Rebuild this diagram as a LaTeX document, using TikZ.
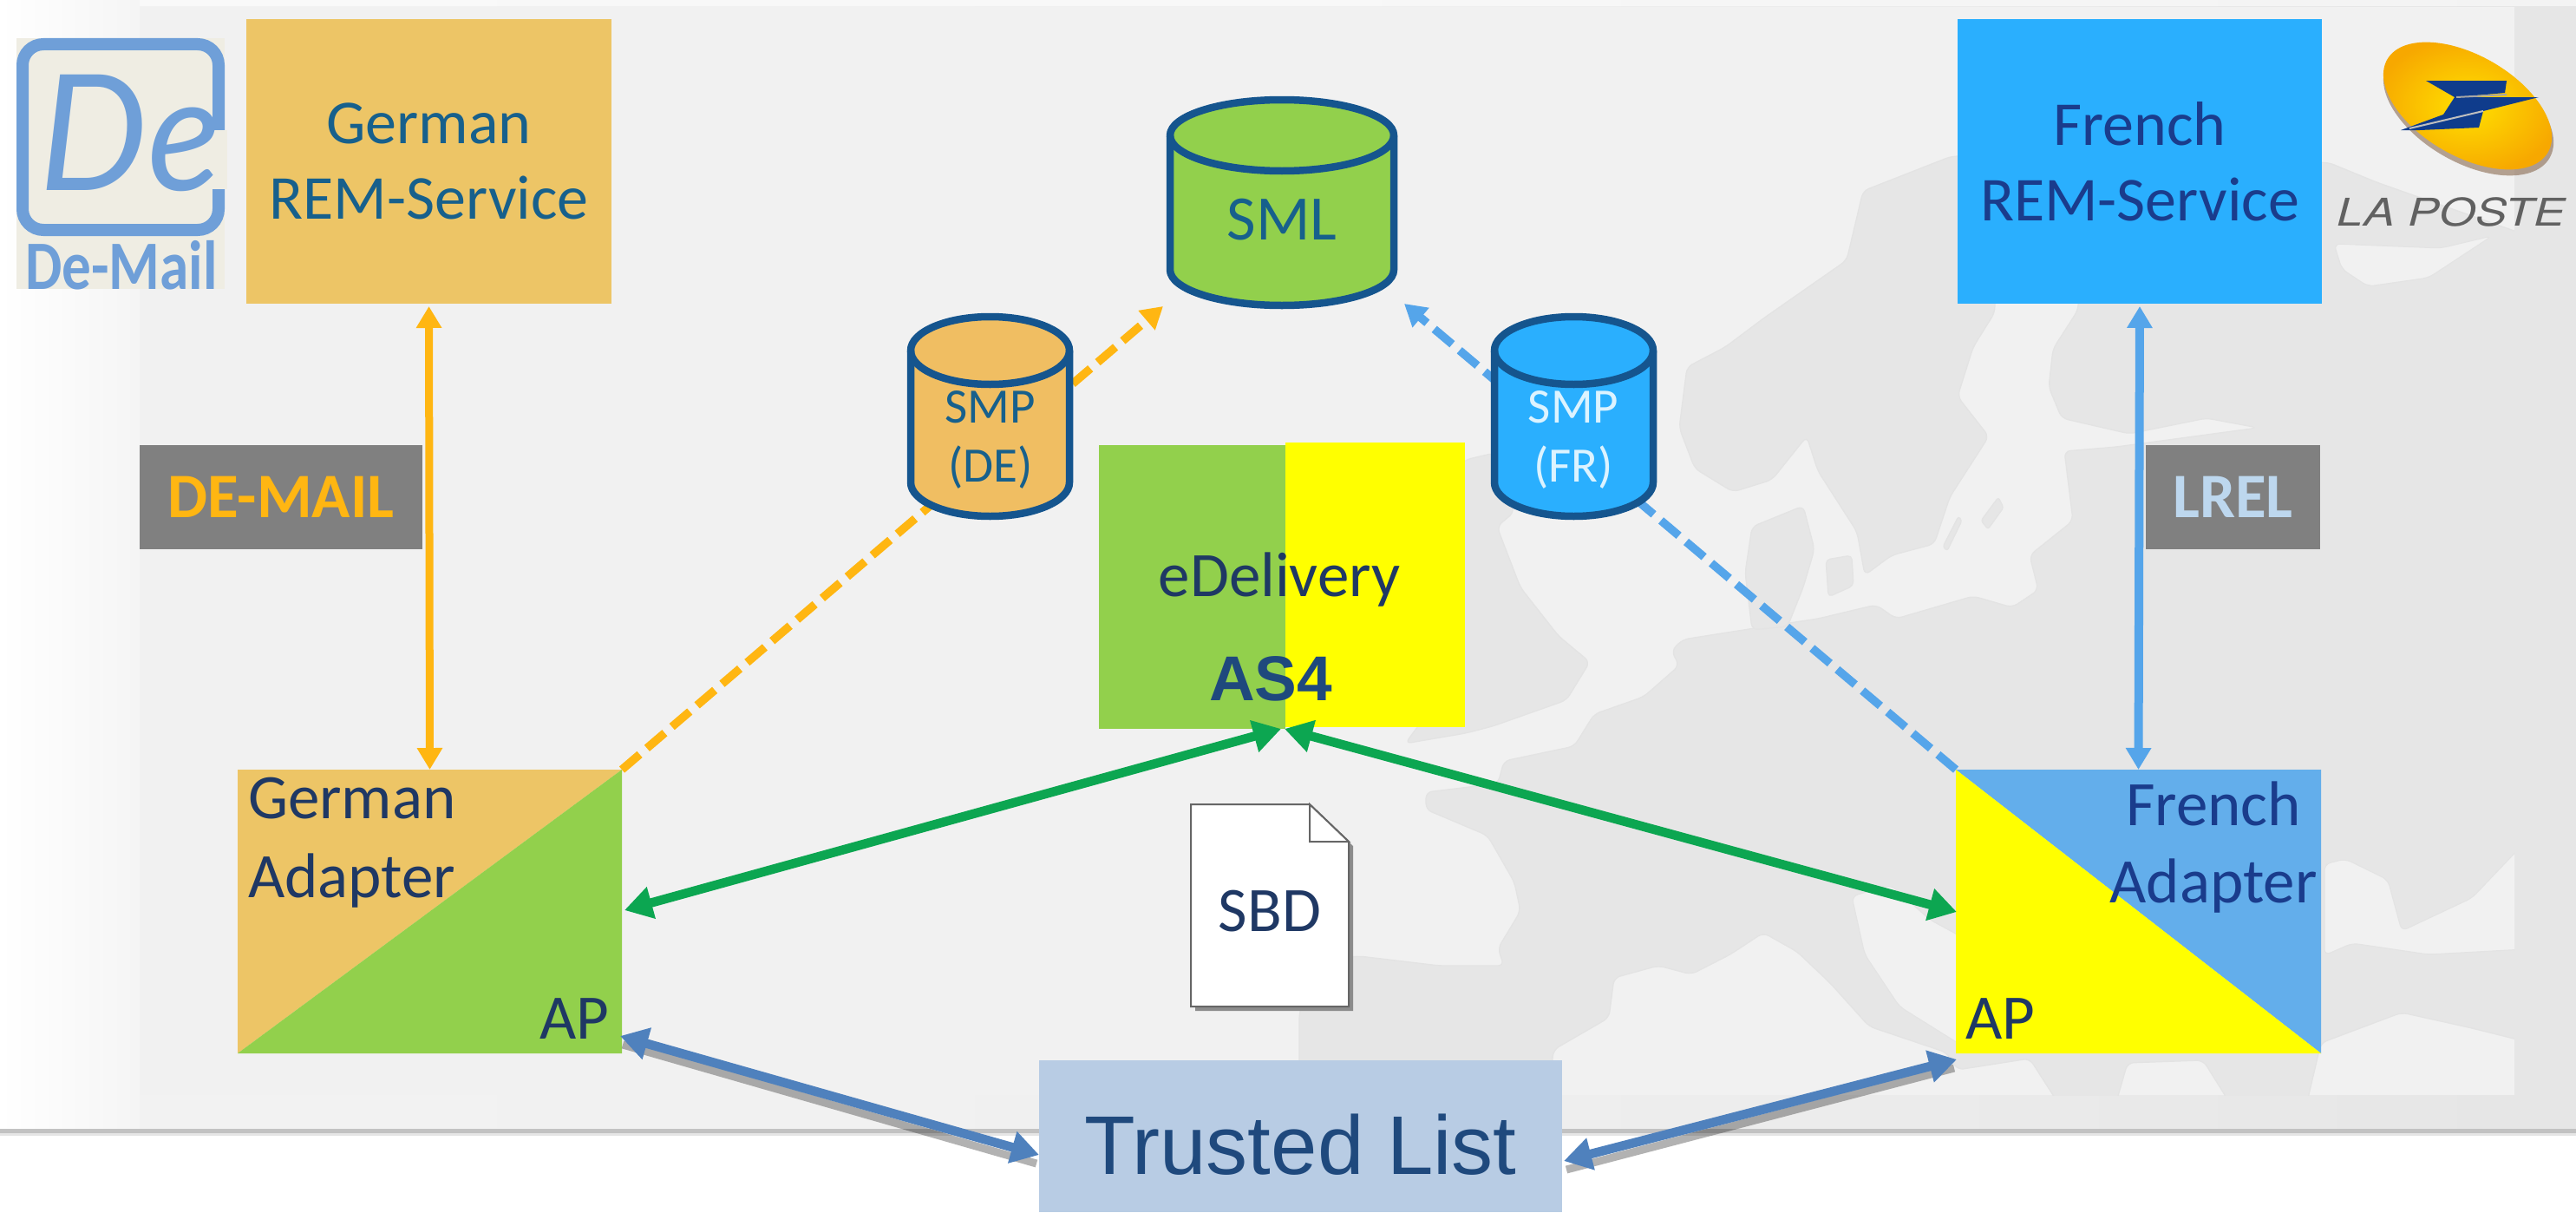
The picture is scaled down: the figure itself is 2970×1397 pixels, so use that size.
\documentclass[tikz,border=0pt]{standalone}
\usepackage{fontspec}
\usepackage{graphicx}
\setmainfont{Carlito}
\newfontfamily\arialf{Liberation Sans}
\newfontfamily\helvf{TeX Gyre Heros}
\newfontfamily\latof{Lato}
\usetikzlibrary{arrows.meta,calc}
\definecolor{orfill}{HTML}{EDC566}
\definecolor{smpor}{HTML}{F0BE62}
\definecolor{grfill}{HTML}{92D04C}
\definecolor{blfill}{HTML}{2AAFFE}
\definecolor{adblue}{HTML}{63AEEB}
\definecolor{cylline}{HTML}{15558E}
\definecolor{orarrow}{HTML}{FFB612}
\definecolor{blarrow}{HTML}{55A5EA}
\definecolor{grarrow}{HTML}{0CA651}
\definecolor{listblue}{HTML}{4F81BD}
\definecolor{listfill}{HTML}{B8CCE4}
\definecolor{landc}{HTML}{E6E6E6}
\definecolor{seac}{HTML}{F1F1F1}
\definecolor{logob}{HTML}{6F9FD8}
\definecolor{logobg}{HTML}{EFEDE3}
\definecolor{navytxt}{HTML}{1F3864}
\definecolor{remde}{HTML}{17608C}
\definecolor{remfr}{HTML}{1A3C8C}
\definecolor{as4col}{HTML}{1F497D}
\definecolor{lrelcol}{HTML}{BDD7EE}
\definecolor{postblue}{HTML}{0F3C8C}
\definecolor{pureyel}{HTML}{FFFF00}
\definecolor{postin}{HTML}{FFE000}
\definecolor{postout}{HTML}{F7A800}
\definecolor{postsh}{HTML}{8A6A50}
\definecolor{smptxt}{HTML}{DCF3FF}
\tikzset{
  plainbox/.style={draw=none,inner sep=0pt,outer sep=0pt,minimum width=#1},
  lbl/.style={inner sep=0pt,outer sep=0pt,align=center},
  land/.style={fill=landc,draw=black!11,line width=1.2pt,rounded corners=7pt},
  sea/.style={fill=seac,draw=black!11,line width=1pt,rounded corners=7pt},
  cylshape/.style={draw=cylline,line width=8.5pt,line join=round},
  dashdeline/.style={line width=9.5pt,dash pattern=on 27pt off 11pt,-{Triangle[length=25pt,width=28pt]}},
  twoway/.style={line width=#1,{Triangle[length=25pt,width=28pt]}-{Triangle[length=25pt,width=28pt]}},
  greenway/.style={line width=10.5pt,grarrow,{Triangle[length=32pt,width=36pt]}-{Triangle[length=32pt,width=36pt]}},
  listarrow/.style={line width=10.5pt,listblue,{Triangle[length=32pt,width=36pt]}-{Triangle[length=32pt,width=36pt]}},
  listshadow/.style={line width=9pt,black,opacity=.3},
}
% x, top y, width, height, ellipse ry, fill
\newcommand{\cylpath}[6]{%
  \pgfmathsetmacro{\cxr}{#3/2}%
  \pgfmathsetmacro{\cyt}{#2+#5}\pgfmathsetmacro{\cyb}{#2+#4-#5}\pgfmathsetmacro{\cxe}{#1+#3}%
  \draw[cylshape,fill=#6] (#1,\cyt) -- (#1,\cyb) arc[start angle=180,end angle=360,x radius=\cxr pt,y radius=#5 pt] -- (\cxe,\cyt) arc[start angle=0,end angle=180,x radius=\cxr pt,y radius=#5 pt] -- cycle;
  \draw[cylshape] (#1,\cyt) arc[start angle=180,end angle=360,x radius=\cxr pt,y radius=#5 pt];
}
\begin{document}
\begin{tikzpicture}[x=1pt,y=-1pt]
\useasboundingbox (0,0) rectangle (2970,1397);
% slide background
\shade[left color=white,right color=black!4] (0,0) rectangle (161,1303);
\shade[left color=black!5,right color=black!10,middle color=black!6] (161,0) rectangle (2970,1303);
\fill[white,opacity=.55] (161,0) rectangle (2970,7);
\fill[black!24] (0,1301) rectangle (2970,1306);
\fill[black!10] (0,1306) rectangle (2970,1309);
\fill[white] (0,1309) rectangle (2970,1397);
% map
\fill[seac] (161,8) rectangle (2899,1262);
\begin{scope}
\clip (161,8) rectangle (2899,1262);
\draw[land] (1498,1262) -- (1498,1167) -- (1520,1105) -- (1568,1102) -- (1660,1113) -- (1734,1113) -- (1727,1093) -- (1753,1050) -- (1746,1017) -- (1715,963) -- (1644,933) -- (1644,913) -- (1727,903) -- (1734,877) -- (1815,860) -- (1838,823) -- (1895,803) -- (1936,767) -- (1927,750) -- (1940,737) -- (2029,723) -- (2096,713) -- (2163,697) -- (2186,713) -- (2275,687) -- (2320,700) -- (2350,680) -- (2340,640) -- (2390,600) -- (2380,520) -- (2440,515) -- (2603,493) -- (2544,482) -- (2455,500) -- (2377,482) -- (2362,446) -- (2367,402) -- (2396,357) -- (2400,200) -- (2684,187) -- (2740,210) -- (2910,270) -- (2910,1200) -- (2850,1185) -- (2769,1167) -- (2676,1202) -- (2660,1270) -- (2570,1270) -- (2540,1222) -- (2453,1225) -- (2440,1270) -- (2372,1270) -- (2340,1220) -- (2257,1233) -- (2244,1213) -- (2155,1183) -- (2110,1133) -- (2072,1097) -- (2033,1075) -- (1995,1100) -- (1950,1123) -- (1912,1113) -- (1861,1127) -- (1855,1173) -- (1791,1210) -- (1785,1270) -- (1498,1270) -- cycle;
\draw[land] (2250,180) -- (2148,220) -- (2129,300) -- (2033,367) -- (1989,400) -- (1945,423) -- (1936,493) -- (1954,540) -- (1998,567) -- (2043,553) -- (2083,503) -- (2096,543) -- (2141,613) -- (2150,663) -- (2181,640) -- (2230,627) -- (2248,573) -- (2293,503) -- (2257,457) -- (2275,400) -- (2300,360) -- (2300,180) -- cycle;
\draw[land] (2020,607) -- (2079,583) -- (2092,633) -- (2079,677) -- (2061,722) -- (2020,726) -- (2012,660) -- cycle;
\draw[land,rounded corners=5pt] (2105,645) -- (2135,640) -- (2137,675) -- (2108,688) -- cycle;
\draw[land,rounded corners=3pt] (2304,573) -- (2310,585) -- (2292,610) -- (2284,600) -- cycle;
\draw[land,rounded corners=3pt] (2258,595) -- (2262,600) -- (2245,635) -- (2240,630) -- cycle;
\draw[land] (1689,530) -- (1723,522) -- (1746,590) -- (1726,607) -- (1753,677) -- (1797,733) -- (1833,763) -- (1806,807) -- (1721,837) -- (1690,845) -- (1620,857) -- (1640,830) -- (1660,800) -- (1660,560) -- cycle;
\draw[sea] (2135,1033) -- (2150,1100) -- (2190,1160) -- (2262,1205) -- (2262,1080) -- (2225,1060) -- (2180,1020) -- cycle;
\draw[sea] (2680,996) -- (2704,990) -- (2753,1014) -- (2769,1073) -- (2850,1035) -- (2910,972) -- (2910,1094) -- (2800,1100) -- (2712,1087) -- (2680,1101) -- cycle;
\draw[sea] (2691,281) -- (2814,286) -- (2873,272) -- (2800,320) -- (2730,330) -- (2700,310) -- cycle;
\end{scope}

% De-Mail logo
\fill[logobg] (19,44) rectangle (259,333);
\draw[logob,line width=14pt,rounded corners=24pt] (26,51) rectangle (252,265);
\fill[logobg] (244,150) rectangle (262,218);
\node[lbl,text=logob,font=\latof\itshape\fontsize{186}{186}\selectfont,anchor=base] (demark) at (150,219) {\scalebox{0.95}[1]{De}};
\node[lbl,text=logob,font=\bfseries\fontsize{80}{80}\selectfont,anchor=base] (delabel) at (140,333) {\scalebox{0.84}[1]{De-Mail}};

% La Poste logo
\fill[postsh,opacity=.6,rotate around={-30:(2846,128)}] (2846,128) ellipse[x radius=108,y radius=59];
\shade[inner color=postin,outer color=postout,rotate around={-30:(2845,122)}] (2845,122) ellipse[x radius=107,y radius=58];
\fill[postblue] (2797,93) -- (2890,93) -- (2888,107) -- (2832,112) -- (2927,112) -- (2863,128) -- (2858,147) -- (2790,150) -- (2768,150) -- (2817,132) -- (2830,112) -- cycle;
\draw[black!35,line width=2pt] (2832,112) -- (2890,109);
\draw[black!25,line width=2pt] (2778,148) -- (2863,128);
\node[lbl,text=black!62,font=\helvf\itshape\fontsize{44}{44}\selectfont,anchor=base] (posttxt) at (2826,260) {\scalebox{1.23}[1]{LA POSTE}};

% boxes
\node[plainbox=421,minimum height=328,fill=orfill,text=remde,align=center,font=\fontsize{72}{87}\selectfont] (gerem) at (494.5,186) {German\\REM-Service};
\node[plainbox=420,minimum height=328,fill=blfill,text=remfr,align=center,font=\fontsize{72}{87}\selectfont] (frrem) at (2467,186) {French\\REM-Service};

% adapters
\fill[orfill] (274,887) -- (717,887) -- (274,1214) -- cycle;
\fill[grfill] (717,887) -- (717,1214) -- (274,1214) -- cycle;
\fill[adblue] (2255,887) -- (2676,887) -- (2676,1214) -- cycle;
\fill[pureyel] (2255,887) -- (2676,1214) -- (2255,1214) -- cycle;
\node[plainbox=443,minimum height=327] (gad) at (495.5,1050.5) {};
\node[plainbox=421,minimum height=327] (fad) at (2465.5,1050.5) {};
\node[lbl,text=navytxt,align=left,font=\fontsize{73}{91}\selectfont,anchor=west] (gadt) at (286,971) {German\\Adapter};
\node[lbl,text=remfr,font=\fontsize{73}{89}\selectfont] (fadt) at (2552,977) {French\\Adapter};
\node[lbl,text=navytxt,font=\fontsize{73}{73}\selectfont,anchor=base] (gap) at (662,1197) {AP};
\node[lbl,text=navytxt,font=\fontsize{73}{73}\selectfont,anchor=base] (fap) at (2306.5,1197) {AP};

% free ends
\coordinate (smlw) at (1341,353);
\coordinate (smle) at (1619,350);
\coordinate (edl) at (1477,840);
\coordinate (edr) at (1481,840);
\coordinate (gadr) at (720,1049);
\coordinate (fadl) at (2256,1051);
\coordinate (gadb) at (715,1194);
\coordinate (tll) at (1198,1331);
\coordinate (tlr) at (1803,1338);
\coordinate (fadb) at (2256,1221);

% vertical arrows
\draw[twoway=9pt,orarrow,shorten <=3pt] (gerem.south) -- (gad.north);
\draw[twoway=10pt,blarrow,shorten <=3pt] (frrem.south) -- (fad.north);

% labels beside them
\node[plainbox=326,minimum height=120,fill=black!50,text=orarrow,font=\fontsize{73}{73}\selectfont\bfseries] (demail) at (324,572.5) {DE-MAIL};
\node[plainbox=201,minimum height=120,fill=black!50,text=lrelcol,font=\fontsize{73}{73}\selectfont\bfseries] (lrel) at (2574.5,572.5) {LREL};

% dashed links behind the SMP cylinders
\draw[dashdeline,orarrow] (gad.north east) -- (smlw);
\draw[dashdeline,blarrow] (fad.north west) -- (smle);

% cylinders
\cylpath{1349}{115}{258}{237}{41}{grfill}
\node[plainbox=258,minimum height=237,text=remde,font=\fontsize{73}{73}\selectfont,text height=85pt,text depth=0pt] (sml) at (1478,233.5) {SML};
\cylpath{1050}{365}{183}{230}{39}{smpor}
\node[lbl,text=remde,font=\fontsize{57}{68}\selectfont] (smpde) at (1142,507) {SMP\\(DE)};
\cylpath{1723}{365}{183}{230}{39}{blfill}
\node[lbl,text=smptxt,font=\fontsize{57}{68}\selectfont] (smpfr) at (1814,507) {SMP\\(FR)};

% eDelivery
\fill[grfill] (1267,513) rectangle (1482,840);
\fill[pureyel] (1482,510) rectangle (1689,838);
\node[plainbox=422,minimum height=330] (edel) at (1478,675) {};
\node[lbl,text=navytxt,font=\fontsize{73}{73}\selectfont,anchor=base] (edt) at (1475,687) {eDelivery};
\node[lbl,text=as4col,font=\arialf\fontsize{73}{73}\selectfont\bfseries,anchor=base] (as4) at (1465,807) {AS4};

% green arrows
\draw[greenway] (gadr) -- (edl);
\draw[greenway] (fadl) -- (edr);

% SBD document
\fill[black!45] (1378,932) -- (1515,932) -- (1560,975) -- (1560,1165) -- (1378,1165) -- cycle;
\draw[draw=black!60,line width=2pt,fill=white] (1373,927) -- (1510,927) -- (1555,970) -- (1555,1160) -- (1373,1160) -- cycle;
\draw[draw=black!60,line width=2pt,fill=white] (1510,927) -- (1510,970) -- (1555,970) -- cycle;
\node[plainbox=182,minimum height=233,text=navytxt,font=\fontsize{73}{73}\selectfont,text height=59pt,text depth=0pt] (sbd) at (1464,1043.5) {SBD};

% trusted list
\draw[listshadow] ($(gadb)+(3,10)$) -- ($(tll)+(-3,10)$);
\draw[listshadow] ($(tlr)+(3,10)$) -- ($(fadb)+(-3,10)$);
\node[plainbox=603,minimum height=175,fill=listfill,text=as4col,font=\arialf\fontsize{96}{96}\selectfont,text height=87pt,text depth=0pt] (tl) at (1499.5,1309.5) {Trusted List};
\draw[listarrow] (gadb) -- (tll);
\draw[listarrow] (tlr) -- (fadb);
\end{tikzpicture}
\end{document}
